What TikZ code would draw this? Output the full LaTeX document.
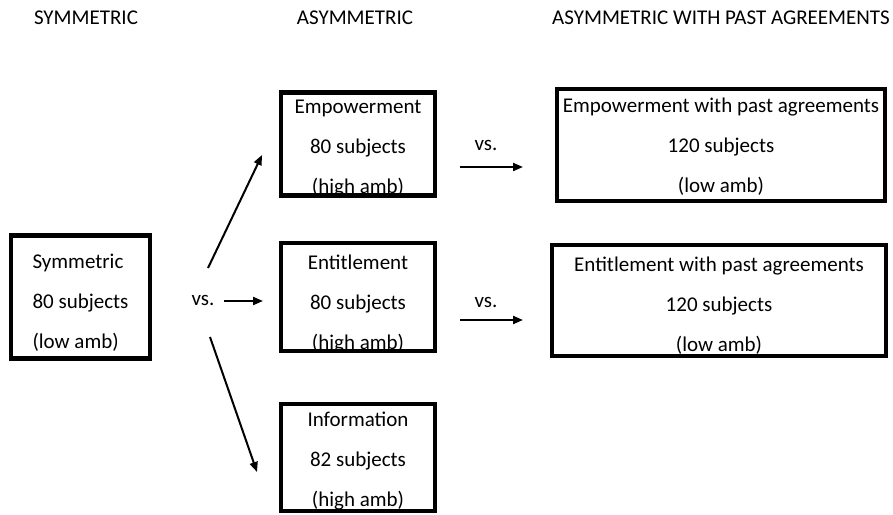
\documentclass[tikz,border=0pt]{standalone}
\usepackage{fontspec}
\setmainfont{Carlito}
\usepackage{tikz}
\usetikzlibrary{positioning,arrows.meta}
\newcommand{\topgap}[1]{\rule{0pt}{#1}}

\begin{document}
\begin{tikzpicture}[x=1pt, y=-1pt,
    font=\fontsize{21}{40}\selectfont,
    box/.style={draw, line width=4.4pt, inner sep=0pt, align=center, text depth=0pt},
    head/.style={inner sep=0pt},
    arr/.style={-{Triangle[length=10pt,width=8pt]}, line width=2pt}]
    \useasboundingbox (0,0) rectangle (893,514);

    % column titles
    \node[head] (hsym) at (86,18) {SYMMETRIC};
    \node[head] (hasym) at (355,18) {ASYMMETRIC};
    \node[head] (hpast) at (721,18) {ASYMMETRIC WITH PAST AGREEMENTS};

    % treatments
    \node[box, align=left, minimum width=139pt, minimum height=123pt] (sym) at (80.5,297) {\topgap{23pt}Symmetric\\80 subjects\\(low amb)};
    \node[box, minimum width=154pt, minimum height=103pt] (emp) at (358,144) {\topgap{19pt}Empowerment\\80 subjects\\(high amb)};
    \node[box, minimum width=154pt, minimum height=108pt] (ent) at (358,297) {\topgap{25pt}Entitlement\\80 subjects\\(high amb)};
    \node[box, minimum width=154pt, minimum height=107pt] (inf) at (358,457.5) {\topgap{18pt}Information\\82 subjects\\(high amb)};
    \node[box, minimum width=328pt, minimum height=112pt] (emppast) at (721,145) {\topgap{15pt}Empowerment with past agreements\\120 subjects\\(low amb)};
    \node[box, minimum width=334pt, minimum height=111pt] (entpast) at (719,300.5) {\topgap{21pt}Entitlement with past agreements\\120 subjects\\(low amb)};

    % versus labels
    \node[head] (vsl) at (203,300) {vs.};
    \node[head] (vst) at (486,145) {vs.};
    \node[head] (vsb) at (486,302) {vs.};

    % arrow ends
    \coordinate (upS) at (208,268);
    \coordinate (upE) at (262,155);
    \coordinate (midS) at (224,301);
    \coordinate (midE) at (263,301);
    \coordinate (dnS) at (210,337);
    \coordinate (dnE) at (257,472);
    \coordinate (topS) at (460,167);
    \coordinate (topE) at (523,167);
    \coordinate (botS) at (460,320);
    \coordinate (botE) at (523,320);

    \draw[arr] (upS) -- (upE);
    \draw[arr] (midS) -- (midE);
    \draw[arr] (dnS) -- (dnE);
    \draw[arr] (topS) -- (topE);
    \draw[arr] (botS) -- (botE);
\end{tikzpicture}
\end{document}
